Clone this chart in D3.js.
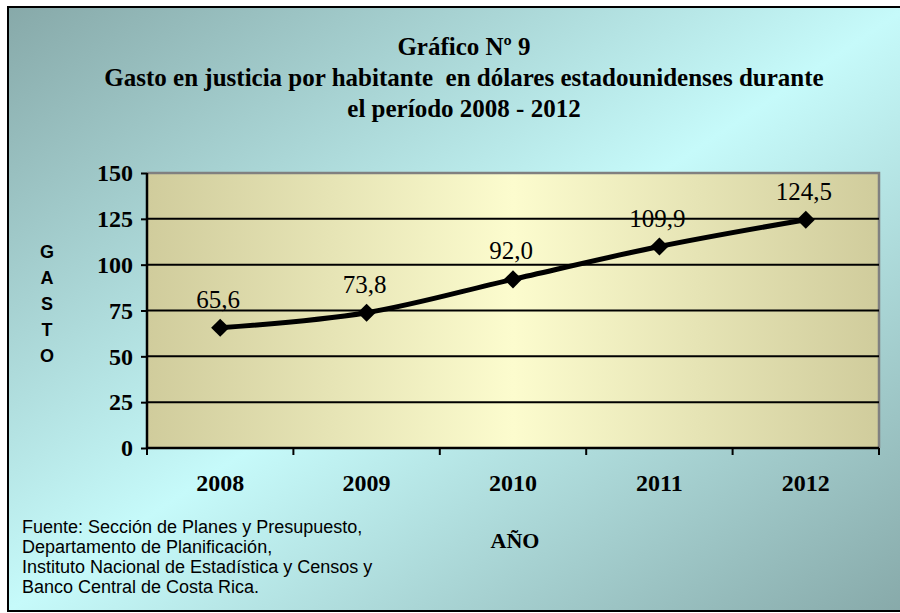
<!DOCTYPE html>
<html>
<head>
<meta charset="utf-8">
<script src="https://cdnjs.cloudflare.com/ajax/libs/d3/7.8.5/d3.min.js"></script>
<style>
  body { margin: 0; background: #fff; }
</style>
</head>
<body>
<div id="chart"></div>
<script>
// data
var years = ["2008", "2009", "2010", "2011", "2012"];
var gasto = [65.6, 73.8, 92.0, 109.9, 124.5];
var yTicks = [0, 25, 50, 75, 100, 125, 150];
var titleLines = ["Gráfico Nº 9",
                  "Gasto en justicia por habitante  en dólares estadounidenses durante",
                  "el período 2008 - 2012"];
var sourceLines = ["Fuente: Sección de Planes y Presupuesto,",
                   "Departamento de Planificación,",
                   "Instituto Nacional de Estadística y Censos y",
                   "Banco Central de Costa Rica."];

var W = 900, H = 613;
var margin = {top: 173, right: 21, bottom: 165, left: 147};
var width = W - margin.left - margin.right;
var height = H - margin.top - margin.bottom;

var serif = "'Liberation Serif', 'Times New Roman', serif";
var sans = "'Liberation Sans', Arial, sans-serif";

var svg = d3.select("#chart")
  .append("svg")
    .attr("width", W)
    .attr("height", H);

var defs = svg.append("defs");

// outer background: dark corners, light diagonal
var bg = defs.append("linearGradient")
    .attr("id", "bgGrad")
    .attr("x1", "0%").attr("y1", "0%")
    .attr("x2", "100%").attr("y2", "100%");
bg.append("stop").attr("offset", "0%").attr("stop-color", "#87a9a9");
bg.append("stop").attr("offset", "50%").attr("stop-color", "#c6fafa");
bg.append("stop").attr("offset", "100%").attr("stop-color", "#87a9a9");

// plot area: khaki edges, pale yellow middle
var pg = defs.append("linearGradient")
    .attr("id", "plotGrad")
    .attr("x1", "0%").attr("y1", "0%")
    .attr("x2", "100%").attr("y2", "0%");
pg.append("stop").attr("offset", "0%").attr("stop-color", "#d0cc9c");
pg.append("stop").attr("offset", "50%").attr("stop-color", "#fcfcce");
pg.append("stop").attr("offset", "100%").attr("stop-color", "#d0cc9c");

svg.append("rect")
    .attr("x", 8).attr("y", 7)
    .attr("width", 900).attr("height", 604)
    .attr("fill", "url(#bgGrad)")
    .attr("stroke", "#000")
    .attr("stroke-width", 2);

var g = svg.append("g")
    .attr("transform", "translate(" + margin.left + "," + margin.top + ")");

var x = d3.scaleBand().domain(years).range([0, width]);
var y = d3.scaleLinear().domain([0, 150]).range([height, 0]);

g.append("rect")
    .attr("width", width).attr("height", height)
    .attr("fill", "url(#plotGrad)");

// top and right border in grey
g.append("path")
    .attr("d", "M0,0H" + width + "V" + height)
    .attr("fill", "none")
    .attr("stroke", "#808080")
    .attr("stroke-width", 2.5);

// grid lines
g.selectAll(".grid")
  .data(yTicks.filter(function(d){ return d > 0 && d < 150; }))
  .enter()
  .append("line")
    .attr("x1", 0).attr("x2", width)
    .attr("y1", function(d){ return y(d); })
    .attr("y2", function(d){ return y(d); })
    .attr("stroke", "#000")
    .attr("stroke-width", 2);

// y axis
var yAxis = g.append("g")
    .call(d3.axisLeft(y).tickValues(yTicks).tickSize(6).tickPadding(8));
// x axis, ticks on category boundaries
var xAxis = g.append("g")
    .attr("transform", "translate(0," + height + ")")
    .call(d3.axisBottom(x).tickSize(0).tickPadding(26));

var bounds = d3.range(years.length + 1).map(function(i){ return i * x.step(); });
xAxis.selectAll(".bound")
  .data(bounds)
  .enter()
  .append("line")
    .attr("x1", function(d){ return d; })
    .attr("x2", function(d){ return d; })
    .attr("y1", 0).attr("y2", 7)
    .attr("stroke", "#000")
    .attr("stroke-width", 2);

[yAxis, xAxis].forEach(function(ax){
  ax.selectAll(".domain").attr("stroke", "#000").attr("stroke-width", 2.5);
  ax.selectAll(".tick line").attr("stroke", "#000").attr("stroke-width", 2);
  ax.selectAll("text")
    .style("font-family", serif)
    .style("font-weight", "bold")
    .style("font-size", "24px")
    .attr("fill", "#000");
});
yAxis.select(".domain").attr("d", "M0,0V" + height);
xAxis.select(".domain").attr("d", "M0,0H" + width);

// line
var line = d3.line()
    .x(function(d, i){ return x(years[i]) + x.bandwidth() / 2; })
    .y(function(d){ return y(d); })
    .curve(d3.curveCatmullRom.alpha(0.5));

g.append("path")
    .datum(gasto)
    .attr("d", line)
    .attr("fill", "none")
    .attr("stroke", "#000")
    .attr("stroke-width", 5);

g.selectAll(".marker")
  .data(gasto)
  .enter()
  .append("path")
    .attr("d", d3.symbol().type(d3.symbolDiamond2).size(210))
    .attr("transform", function(d, i){
      return "translate(" + (x(years[i]) + x.bandwidth() / 2) + "," + y(d) + ")";
    })
    .attr("fill", "#000");

// value labels
g.selectAll(".val")
  .data(gasto)
  .enter()
  .append("text")
    .attr("x", function(d, i){ return x(years[i]) + x.bandwidth() / 2 - 2; })
    .attr("y", function(d){ return y(d) - 20; })
    .attr("text-anchor", "middle")
    .style("font-family", serif)
    .style("font-size", "25px")
    .text(function(d){ return d.toFixed(1).replace(".", ","); });

// title
svg.selectAll(".title")
  .data(titleLines)
  .enter()
  .append("text")
    .attr("x", 464)
    .attr("y", function(d, i){ return 55 + i * 31; })
    .attr("text-anchor", "middle")
    .style("font-family", serif)
    .style("font-weight", "bold")
    .style("font-size", "25px")
    .style("white-space", "pre")
    .text(function(d){ return d; });

// y axis title, stacked letters
svg.selectAll(".ylab")
  .data("GASTO".split(""))
  .enter()
  .append("text")
    .attr("x", 47)
    .attr("y", function(d, i){ return 258 + i * 26; })
    .attr("text-anchor", "middle")
    .style("font-family", sans)
    .style("font-weight", "bold")
    .style("font-size", "18px")
    .text(function(d){ return d; });

// x axis title
svg.append("text")
    .attr("x", 515)
    .attr("y", 548)
    .attr("text-anchor", "middle")
    .style("font-family", serif)
    .style("font-weight", "bold")
    .style("font-size", "22px")
    .text("AÑO");

// source note
svg.selectAll(".src")
  .data(sourceLines)
  .enter()
  .append("text")
    .attr("x", 22)
    .attr("y", function(d, i){ return 533 + i * 20; })
    .style("font-family", sans)
    .style("font-size", "18px")
    .text(function(d){ return d; });
</script>
</body>
</html>
